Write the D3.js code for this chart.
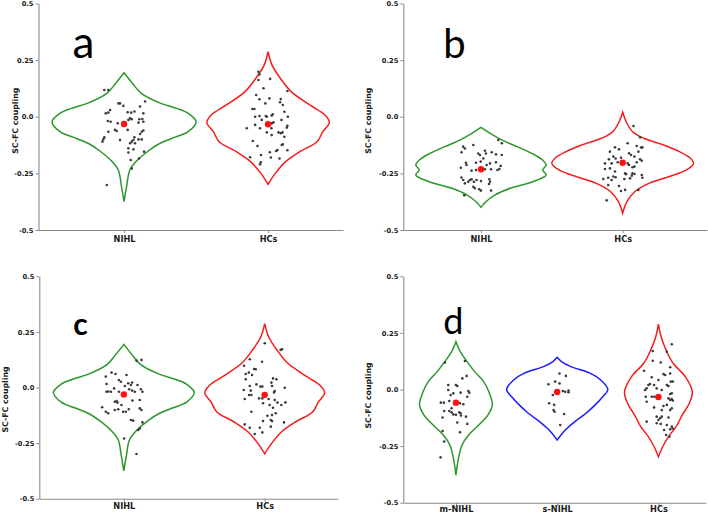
<!DOCTYPE html>
<html>
<head>
<meta charset="utf-8">
<script src="https://cdnjs.cloudflare.com/ajax/libs/d3/7.8.5/d3.min.js"></script>
<style>
    body { margin: 0; background: #fff; }
    text { font-family: "DejaVu Sans", sans-serif; }
</style>
</head>
<body>
<svg id="chart" width="708" height="514"></svg>
<script>
// ---- data ----
const panelLetters = ["a", "b", "c", "d"];
const groupsTwo = ["NIHL", "HCs"];
const groupsThree = ["m-NIHL", "s-NIHL", "HCs"];
const yTicks = [0.5, 0.25, 0, -0.25, -0.5];
const yTickLabels = ["0.5", "0.25", "0.0", "-0.25", "-0.5"];
const yLabel = "SC-FC coupling";

// violin outlines: [value, relative half width]
const violinNIHL_a = [[0.194,0],[0.15,0.11],[0.103,0.24],[0.059,0.51],[0.037,0.73],[0.015,0.89],[-0.022,1],[-0.066,0.89],[-0.09,0.71],[-0.117,0.5],[-0.15,0.34],[-0.2,0.16],[-0.235,0.08],[-0.309,0.035],[-0.375,0]];
const violinHCs_a = [[0.287,0],[0.228,0.055],[0.17,0.17],[0.111,0.32],[0.052,0.58],[0.008,0.79],[-0.025,0.85],[-0.066,0.76],[-0.11,0.68],[-0.154,0.44],[-0.199,0.24],[-0.25,0.1],[-0.298,0]];
const violinNIHL_b = [[-0.047,0],[-0.073,0.13],[-0.103,0.3],[-0.132,0.51],[-0.162,0.72],[-0.191,0.87],[-0.213,0.92],[-0.235,0.87],[-0.257,0.92],[-0.287,0.73],[-0.316,0.41],[-0.345,0.2],[-0.375,0.07],[-0.4,0]];
const violinHCs_b = [[0.02,0],[-0.022,0.05],[-0.066,0.14],[-0.095,0.3],[-0.125,0.58],[-0.154,0.8],[-0.184,0.96],[-0.206,1],[-0.235,0.9],[-0.265,0.65],[-0.294,0.37],[-0.331,0.17],[-0.375,0.06],[-0.426,0]];
const violinMild_d = [[0.211,0],[0.167,0.085],[0.123,0.22],[0.079,0.37],[0.034,0.55],[-0.01,0.65],[-0.068,0.72],[-0.113,0.63],[-0.157,0.45],[-0.201,0.25],[-0.245,0.12],[-0.304,0.05],[-0.378,0]];
const violinSevere_d = [[0.142,0],[0.123,0.085],[0.101,0.27],[0.072,0.65],[0.042,0.86],[0,1],[-0.032,0.9],[-0.068,0.75],[-0.105,0.57],[-0.142,0.35],[-0.179,0.16],[-0.223,0]];
const violinHCs_d = [[0.289,0],[0.233,0.053],[0.175,0.15],[0.116,0.29],[0.057,0.53],[-0.01,0.67],[-0.061,0.61],[-0.113,0.47],[-0.164,0.35],[-0.208,0.2],[-0.253,0.085],[-0.297,0]];

// subject dots: [jitter (category units), value]
const dotsNIHL_a = [[-0.137,0.118],[-0.109,0.118],[-0.039,0.059],[-0.028,0.059],[-0.005,0.048],[0.146,0.067],[0.111,0.045],[-0.097,0.030],[-0.109,0.018],[-0.127,0.015],[0.025,0.020],[0.049,0.018],[0.072,0.023],[0.134,0.015],[0.042,-0.007],[0.053,-0.011],[0.030,-0.014],[0.106,-0.011],[0.127,-0.010],[-0.113,-0.019],[-0.093,-0.022],[-0.044,-0.029],[0.100,-0.026],[0.134,-0.022],[-0.063,-0.058],[-0.051,-0.063],[0.025,-0.058],[0.123,-0.066],[0.134,-0.061],[0.111,-0.076],[-0.109,-0.066],[-0.137,-0.091],[-0.144,-0.100],[-0.150,-0.110],[-0.028,-0.103],[0.072,-0.091],[0.065,-0.103],[0.053,-0.110],[0.042,-0.117],[0.076,-0.117],[0.100,-0.100],[0.123,-0.100],[0.030,-0.139],[0.065,-0.144],[0.030,-0.158],[0.139,-0.154],[0.104,-0.184],[0.046,-0.191],[0.053,-0.228],[-0.120,-0.301]];
const dotsHCs_a = [[-0.067,0.199],[-0.060,0.187],[-0.067,0.162],[0.014,0.167],[-0.032,0.126],[0.134,0.114],[-0.083,0.096],[-0.060,0.077],[0.009,0.081],[0.088,0.078],[0.083,0.064],[0.102,0.052],[-0.019,0.059],[-0.109,0.034],[-0.095,0.034],[0.032,0.011],[0.025,0.005],[0.113,0.022],[-0.090,0.000],[-0.060,0.003],[-0.016,0.003],[-0.009,0.000],[0.137,0.000],[-0.044,-0.014],[0.093,-0.014],[0.037,-0.025],[0.025,-0.029],[0.134,-0.040],[0.130,-0.048],[-0.148,-0.051],[-0.056,-0.051],[0.023,-0.051],[-0.090,-0.036],[-0.009,-0.069],[0.025,-0.081],[0.072,-0.069],[0.088,-0.073],[0.100,-0.069],[0.113,-0.088],[-0.106,-0.107],[0.102,-0.122],[0.095,-0.125],[-0.074,-0.129],[0.056,-0.151],[0.065,-0.147],[0.012,-0.157],[0.134,-0.148],[-0.049,-0.169],[0.019,-0.180],[0.079,-0.184],[-0.125,-0.179],[-0.051,-0.201],[-0.056,-0.210]];
const dotsNIHL_b = [[-0.125,-0.132],[-0.113,-0.140],[-0.054,-0.125],[-0.137,-0.157],[-0.019,-0.162],[-0.007,-0.169],[0.028,-0.150],[0.035,-0.162],[0.076,-0.157],[0.106,-0.166],[0.147,-0.169],[0.017,-0.184],[-0.106,-0.203],[-0.102,-0.213],[-0.035,-0.203],[-0.002,-0.198],[0.040,-0.213],[0.064,-0.206],[0.106,-0.201],[0.139,-0.217],[-0.142,-0.225],[-0.066,-0.238],[-0.035,-0.235],[0.028,-0.232],[0.071,-0.232],[0.116,-0.235],[0.130,-0.231],[-0.137,-0.268],[-0.125,-0.279],[-0.090,-0.287],[-0.078,-0.279],[-0.066,-0.276],[-0.050,-0.287],[-0.031,-0.279],[0.000,-0.284],[0.059,-0.276],[0.064,-0.287],[0.057,-0.297],[-0.113,-0.294],[-0.054,-0.309],[-0.043,-0.316],[-0.012,-0.320],[0.000,-0.326],[0.071,-0.326],[-0.118,-0.347],[0.123,-0.103],[0.147,-0.117]];
const dotsHCs_b = [[0.076,-0.041],[0.123,-0.091],[0.035,-0.117],[0.099,-0.129],[0.130,-0.136],[0.139,-0.135],[-0.054,-0.135],[-0.026,-0.144],[-0.090,-0.154],[0.045,-0.161],[0.059,-0.169],[0.111,-0.154],[-0.066,-0.176],[-0.050,-0.184],[-0.012,-0.181],[0.083,-0.176],[-0.097,-0.188],[0.123,-0.188],[0.135,-0.194],[-0.125,-0.206],[-0.078,-0.206],[-0.035,-0.201],[0.035,-0.206],[0.045,-0.213],[0.099,-0.201],[-0.125,-0.231],[-0.090,-0.228],[0.069,-0.223],[0.083,-0.220],[-0.054,-0.242],[0.017,-0.250],[0.024,-0.254],[0.069,-0.250],[0.064,-0.260],[0.083,-0.253],[0.135,-0.257],[0.139,-0.269],[-0.137,-0.275],[-0.102,-0.269],[-0.066,-0.264],[-0.050,-0.267],[-0.078,-0.279],[0.012,-0.275],[0.052,-0.272],[-0.102,-0.301],[-0.026,-0.306],[-0.012,-0.328],[0.017,-0.323],[0.111,-0.323],[-0.113,-0.369]];
const dotsNIHL_c = [[0.090,0.121],[0.125,0.124],[-0.087,0.067],[-0.059,0.061],[0.019,0.056],[-0.128,0.049],[-0.035,0.034],[-0.021,0.026],[0.031,0.019],[0.059,0.022],[0.050,0.011],[-0.123,0.016],[0.097,0.011],[0.007,0.007],[-0.111,-0.018],[-0.123,-0.019],[-0.092,-0.019],[-0.069,-0.004],[0.038,-0.008],[0.059,-0.014],[0.078,-0.019],[0.121,-0.008],[0.132,-0.019],[-0.035,-0.019],[0.061,-0.059],[-0.064,-0.064],[-0.052,-0.061],[-0.045,-0.068],[0.113,-0.056],[-0.154,-0.089],[-0.017,-0.079],[-0.064,-0.101],[-0.040,-0.098],[-0.128,-0.109],[-0.111,-0.116],[-0.005,-0.109],[0.014,-0.109],[0.035,-0.098],[0.113,-0.094],[0.125,-0.101],[0.050,-0.146],[0.066,-0.149],[0.132,-0.157],[0.113,-0.184],[0.102,-0.191],[0.002,-0.229],[0.090,-0.299]];
const dotsHCs_c = [[0.000,0.199],[0.113,0.169],[0.123,0.172],[-0.106,0.127],[-0.019,0.116],[-0.147,0.098],[-0.076,0.083],[-0.064,0.082],[-0.113,0.067],[-0.090,0.056],[-0.135,0.061],[0.059,0.041],[0.083,0.037],[-0.135,0.037],[-0.059,0.014],[-0.031,0.004],[-0.017,0.004],[0.047,0.022],[0.052,0.007],[0.142,-0.001],[-0.106,0.007],[-0.149,-0.011],[-0.099,-0.014],[0.071,-0.016],[0.066,-0.022],[-0.111,-0.034],[-0.095,-0.034],[-0.012,-0.037],[-0.040,-0.049],[-0.017,-0.049],[-0.142,-0.052],[0.028,-0.052],[0.071,-0.056],[0.090,-0.068],[-0.012,-0.071],[0.035,-0.079],[0.147,-0.067],[0.118,-0.079],[0.059,-0.091],[-0.095,-0.109],[0.078,-0.116],[0.052,-0.124],[0.019,-0.127],[0.043,-0.146],[0.052,-0.151],[-0.012,-0.151],[0.137,-0.157],[-0.142,-0.166],[-0.106,-0.181],[-0.035,-0.181],[0.043,-0.176],[-0.071,-0.209],[-0.017,-0.202]];
const dotsMild_d = [[-0.109,0.119],[0.089,0.126],[0.063,0.049],[0.106,0.060],[-0.076,0.020],[0.000,0.020],[0.013,0.015],[-0.026,-0.017],[-0.053,-0.024],[0.046,-0.014],[0.122,-0.007],[0.132,-0.014],[-0.076,-0.002],[0.112,-0.032],[-0.149,-0.058],[-0.119,-0.058],[-0.066,-0.051],[0.040,-0.061],[0.073,-0.065],[-0.043,-0.083],[-0.116,-0.095],[-0.066,-0.095],[-0.043,-0.101],[-0.026,-0.110],[0.000,-0.112],[0.033,-0.101],[0.046,-0.105],[0.099,-0.120],[-0.132,-0.124],[0.050,-0.115],[0.013,-0.146],[0.112,-0.152],[-0.132,-0.183],[0.040,-0.189],[-0.116,-0.230],[-0.152,-0.300]];
const dotsSevere_d = [[0.023,0.071],[0.086,0.060],[-0.086,0.023],[-0.020,0.035],[0.023,0.027],[-0.043,-0.024],[0.056,-0.007],[0.079,-0.010],[0.112,-0.005],[0.112,-0.012],[-0.079,-0.061],[-0.030,-0.068],[-0.036,-0.091],[-0.026,-0.098],[0.069,-0.108],[0.030,-0.157]];
const dotsHCs_d = [[0.132,0.200],[-0.056,0.170],[0.083,0.167],[0.023,0.119],[-0.056,0.127],[0.116,0.098],[-0.142,0.083],[0.050,0.068],[0.066,0.064],[0.116,0.071],[-0.066,0.054],[0.000,0.042],[0.142,0.035],[0.122,0.035],[-0.083,0.024],[-0.099,0.020],[-0.043,0.020],[0.083,0.020],[0.099,0.015],[-0.116,0.005],[-0.132,-0.002],[-0.017,0.005],[0.033,-0.002],[0.132,-0.017],[0.116,-0.020],[-0.125,-0.032],[-0.066,-0.032],[-0.040,-0.032],[0.099,-0.039],[0.132,-0.042],[0.142,-0.049],[0.116,-0.046],[-0.116,-0.054],[0.050,-0.073],[0.083,-0.068],[0.033,-0.091],[0.116,-0.091],[0.132,-0.083],[-0.043,-0.079],[0.000,-0.135],[0.017,-0.127],[0.033,-0.120],[-0.017,-0.120],[0.099,-0.124],[-0.116,-0.142],[-0.017,-0.149],[0.023,-0.152],[0.083,-0.157],[0.132,-0.164],[0.142,-0.172],[0.116,-0.176],[0.056,-0.179],[0.076,-0.201],[0.109,-0.208]];

// group means (red markers)
const means_a = [-0.032, -0.033];
const means_b = [-0.232, -0.203];
const means_c = [-0.031, -0.033];
const means_d = [-0.058, -0.011, -0.033];

const green = "#2c962c", red = "#f51c1c", blue = "#1e1eff";

// ---- panel layout ----
const panels = [
    {letter: panelLetters[0], groups: groupsTwo, violins: [violinNIHL_a, violinHCs_a], dots: [dotsNIHL_a, dotsHCs_a], means: means_a, colors: [green, red],
        left: 38.5, right: 343, top: 3.5, bottom: 230, padL: 0.594, padR: 0.52, xPad: 3, lx: 34, ly: 58, lsize: 44, lweight: "normal", labX: -23, labY: 4},
    {letter: panelLetters[1], groups: groupsTwo, violins: [violinNIHL_b, violinHCs_b], dots: [dotsNIHL_b, dotsHCs_b], means: means_b, colors: [green, red],
        left: 403.3, right: 707, top: 3.5, bottom: 230, padL: 0.548, padR: 0.595, xPad: 3, lx: 40, ly: 58, lsize: 40, lweight: "normal", labX: -34, labY: 4},
    {letter: panelLetters[2], groups: groupsTwo, violins: [violinNIHL_a, violinHCs_a], dots: [dotsNIHL_c, dotsHCs_c], means: means_c, colors: [green, red],
        left: 39.3, right: 338, top: 276.3, bottom: 498.7, padL: 0.6, padR: 0.52, xPad: 1.6, lx: 34, ly: 335, lsize: 30, lweight: "bold", labX: -33, labY: 12},
    {letter: panelLetters[3], groups: groupsThree, violins: [violinMild_d, violinSevere_d, violinHCs_d], dots: [dotsMild_d, dotsSevere_d, dotsHCs_d], means: means_d, colors: [green, blue, red],
        left: 403.3, right: 706, top: 276.3, bottom: 502.7, padL: 0.52, padR: 0.47, xPad: 0.8, lx: 40, ly: 334, lsize: 36, lweight: "normal", labX: -34, labY: 6}
];

const svg = d3.select("#chart");

panels.forEach(function (p) {
    const g = svg.append("g");
    const n = p.groups.length;

    const yScale = d3.scaleLinear().domain([-0.5, 0.5]).range([p.bottom, p.top]);
    const xScale = d3.scaleLinear().domain([-p.padL, n - 1 + p.padR]).range([p.left, p.right]);
    const step = xScale(1) - xScale(0);
    const wScale = d3.scaleLinear().domain([0, 1]).range([0, step * 0.5]);

    // y axis
    const yAxis = g.append("g")
        .attr("transform", "translate(" + p.left + ",0)")
        .call(d3.axisLeft(yScale)
            .tickValues(yTicks)
            .tickFormat(function (d, i) { return yTickLabels[i]; })
            .tickSize(3)
            .tickPadding(2)
            .tickSizeOuter(0));

    // x axis
    const xAxis = g.append("g")
        .attr("transform", "translate(0," + p.bottom + ")")
        .call(d3.axisBottom(xScale)
            .tickValues(d3.range(n))
            .tickFormat(function (i) { return p.groups[i]; })
            .tickSize(3)
            .tickPadding(p.xPad)
            .tickSizeOuter(0));

    [yAxis, xAxis].forEach(function (a) {
        a.select(".domain").attr("stroke", "#8a8a8a").attr("stroke-width", 1.1);
        a.selectAll(".tick line").attr("stroke", "#8a8a8a");
        a.selectAll(".tick text")
            .attr("fill", "#1a1a1a")
            .style("font-weight", "bold");
    });
    yAxis.selectAll(".tick text").style("font-size", "6.7px");
    xAxis.selectAll(".tick text").style("font-size", "8.2px");

    // y label
    g.append("text")
        .attr("transform", "translate(" + (p.left + p.labX) + "," + ((p.top + p.bottom) / 2 + p.labY) + ") rotate(-90)")
        .attr("text-anchor", "middle")
        .attr("dominant-baseline", "middle")
        .style("font-size", "7.8px")
        .style("font-weight", "bold")
        .attr("fill", "#1a1a1a")
        .text(yLabel);

    // violins
    p.violins.forEach(function (v, i) {
        const cx = xScale(i);
        const area = d3.area()
            .curve(d3.curveCatmullRom.alpha(0.5))
            .y(function (d) { return yScale(d[0]); })
            .x0(function (d) { return cx - wScale(d[1]); })
            .x1(function (d) { return cx + wScale(d[1]); });
        g.append("path")
            .datum(v)
            .attr("d", area)
            .attr("fill", "none")
            .attr("stroke", p.colors[i])
            .attr("stroke-width", 1.5);
    });

    // dots
    p.dots.forEach(function (ds, i) {
        g.selectAll(".dot-" + i)
            .data(ds)
            .enter().append("circle")
            .attr("class", "dot-" + i)
            .attr("cx", function (d) { return xScale(i + d[0]); })
            .attr("cy", function (d) { return yScale(d[1]); })
            .attr("r", 1.3)
            .attr("fill", "#3b3b3b");
    });

    // means
    g.selectAll(".mean")
        .data(p.means)
        .enter().append("circle")
        .attr("class", "mean")
        .attr("cx", function (d, i) { return xScale(i); })
        .attr("cy", function (d) { return yScale(d); })
        .attr("r", 3.2)
        .attr("fill", "#ff1010");

    // panel letter
    g.append("text")
        .attr("x", p.left + p.lx)
        .attr("y", p.ly)
        .style("font-family", "Lato, 'Open Sans', sans-serif")
        .style("font-size", p.lsize + "px")
        .style("font-weight", p.lweight)
        .attr("fill", "#000")
        .text(p.letter);
});
</script>
</body>
</html>
